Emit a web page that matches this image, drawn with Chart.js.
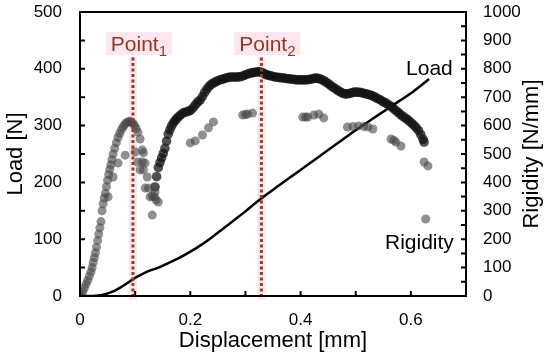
<!DOCTYPE html>
<html>
<head>
<meta charset="utf-8">
<script src="https://cdn.jsdelivr.net/npm/chart.js@4.4.1/dist/chart.umd.min.js"></script>
<style>html,body{margin:0;padding:0;background:#fff}</style>
</head>
<body>
<canvas id="chart_canvas" width="550" height="360"></canvas>
<script>
/*---------------------------------------------------------------
----- LOAD / RIGIDITY vs DISPLACEMENT
---------------------------------------------------------------*/

// Load curve (left axis, N)
var loadDisp = [0, 0.02, 0.04, 0.06, 0.08, 0.10, 0.11, 0.12, 0.13, 0.14, 0.16, 0.18, 0.20, 0.22, 0.24, 0.26, 0.28, 0.30,
    0.32, 0.34, 0.36, 0.38, 0.40, 0.42, 0.44, 0.46, 0.48, 0.50, 0.52, 0.54, 0.56, 0.58, 0.60, 0.62, 0.633];
var loadValues = [0, 0, 2, 8, 19, 32, 37, 42, 46, 49, 58, 67, 78, 90, 104, 119, 134, 149,
    165, 180, 194, 208, 222, 236, 250, 264, 278, 292, 305, 318, 331, 344, 357, 372, 382];

// Rigidity (right axis, N/mm) - first rise up to Point 1
var rigRiseDisp = [0, 0.002, 0.005, 0.008, 0.011, 0.014, 0.017, 0.020, 0.022, 0.024, 0.026, 0.028, 0.030, 0.032,
    0.034, 0.036, 0.038, 0.040, 0.042, 0.044, 0.046, 0.048, 0.050, 0.052, 0.054, 0.056, 0.058, 0.060, 0.063,
    0.066, 0.069, 0.072, 0.075, 0.078, 0.081, 0.084, 0.087, 0.090, 0.093, 0.096, 0.099, 0.102, 0.105];
var rigRiseValues = [0, 5, 15, 28, 42, 55, 70, 85, 100, 118, 135, 152, 172, 195,
    218, 240, 262, 300, 325, 345, 362, 385, 408, 428, 446, 462, 480, 500, 520,
    540, 558, 572, 585, 595, 603, 610, 613, 615, 613, 608, 600, 590, 577];

// Rigidity - scattered points
var rigScatterDisp = [0.109, 0.113, 0.115, 0.113, 0.118, 0.109, 0.115, 0.122, 0.118, 0.124, 0.127, 0.131, 0.135,
    0.138, 0.142, 0.131, 0.136, 0.100, 0.105, 0.082, 0.069, 0.060, 0.051,
    0.200, 0.209, 0.222, 0.233, 0.242, 0.295, 0.300, 0.304, 0.313, 0.404, 0.409, 0.413, 0.424, 0.433, 0.442,
    0.485, 0.495, 0.505, 0.515, 0.522, 0.531, 0.564, 0.569, 0.573, 0.582, 0.624, 0.631, 0.627];
var rigScatterValues = [553, 514, 504, 472, 468, 444, 444, 419, 380, 380, 349, 352, 349,
    338, 331, 285, 366, 507, 472, 496, 468, 419, 349,
    539, 546, 567, 592, 613, 637, 639, 641, 644, 630, 630, 630, 637, 641, 627,
    595, 597, 599, 597, 595, 588, 553, 548, 542, 528, 472, 458, 271];

// Rigidity - dense branch from the dip to the end
var rigCurveDisp = [0.136, 0.139, 0.142, 0.145, 0.148, 0.151, 0.154, 0.157, 0.160, 0.163, 0.166, 0.169, 0.172,
    0.175, 0.178, 0.182, 0.186, 0.190, 0.194, 0.198, 0.202, 0.206, 0.210, 0.214, 0.218, 0.222, 0.226, 0.230,
    0.234, 0.238, 0.242, 0.246, 0.250, 0.254, 0.258, 0.262, 0.266, 0.270, 0.274, 0.278, 0.282, 0.286, 0.290,
    0.294, 0.298, 0.302, 0.306, 0.310, 0.314, 0.318, 0.322, 0.326, 0.330, 0.334, 0.338, 0.342, 0.346, 0.350,
    0.354, 0.358, 0.362, 0.366, 0.370, 0.374, 0.378, 0.382, 0.386, 0.390, 0.394, 0.398, 0.402, 0.406, 0.410,
    0.414, 0.418, 0.422, 0.426, 0.430, 0.434, 0.438, 0.442, 0.446, 0.450, 0.454, 0.458, 0.462, 0.466, 0.470,
    0.474, 0.478, 0.482, 0.486, 0.490, 0.494, 0.498, 0.502, 0.506, 0.510, 0.514, 0.518, 0.522, 0.526, 0.530,
    0.534, 0.538, 0.542, 0.546, 0.550, 0.554, 0.558, 0.562, 0.566, 0.570, 0.574, 0.578, 0.582, 0.586, 0.590,
    0.594, 0.598, 0.602, 0.606, 0.610, 0.614, 0.618, 0.622, 0.624];
var rigCurveValues = [384, 420, 452, 470, 486, 502, 520, 545, 570, 585, 598, 609, 617,
    624, 630, 637, 643, 647, 649, 651, 656, 665, 675, 684, 690, 702, 716, 728,
    738, 745, 750, 754, 758, 761, 763, 766, 768, 770, 771, 771, 771, 771, 772,
    774, 777, 780, 783, 785, 787, 788, 789, 789, 787, 783, 779, 777, 775, 773,
    771, 770, 769, 768, 767, 766, 765, 764, 763, 762, 761, 761, 761, 761, 761,
    762, 763, 765, 767, 767, 765, 762, 758, 753, 748, 742, 736, 731, 726, 721,
    716, 713, 711, 712, 714, 716, 718, 718, 717, 716, 714, 712, 710, 708, 705,
    701, 697, 693, 689, 684, 680, 675, 670, 664, 657, 651, 645, 638, 632, 626,
    621, 614, 607, 600, 592, 582, 568, 552, 542];

// Axis ticks
var xTickLabels = [0, 0.2, 0.4, 0.6];
var loadTickLabels = [0, 100, 200, 300, 400, 500];
var rigidityTickLabels = [0, 100, 200, 300, 400, 500, 600, 700, 800, 900, 1000];

// Marked points
var markerDisp = [0.096, 0.329];
var markerNames = ['1', '2'];

var FONT = "'Liberation Sans', Arial, sans-serif";

function toPoints(xs, ys) {
    return xs.map(function (v, i) { return { x: v, y: ys[i] }; });
}

var rigidityLoose = toPoints(rigRiseDisp, rigRiseValues)
    .concat(toPoints(rigScatterDisp, rigScatterValues));
var rigidityDense = toPoints(rigCurveDisp, rigCurveValues);

// Draws the frame, inward ticks, the two marked points and the curve labels
var decorations = {
    id: 'decorations',
    beforeDatasetsDraw: function (chart) {
        var ctx = chart.ctx, x = chart.scales.x, y = chart.scales.y;
        ctx.save();
        ctx.fillStyle = 'rgba(255, 196, 214, 0.45)';
        markerDisp.forEach(function (d) {
            var px = x.getPixelForValue(d);
            var top = y.getPixelForValue(420);
            ctx.fillRect(px - 4, top, 8, y.getPixelForValue(0) + 4 - top);
        });
        ctx.restore();
    },
    afterDatasetsDraw: function (chart) {
        var ctx = chart.ctx, x = chart.scales.x, y = chart.scales.y, y2 = chart.scales.y2;
        var area = chart.chartArea;
        ctx.save();

        // dotted vertical lines + labels
        markerDisp.forEach(function (d, i) {
            var px = x.getPixelForValue(d);
            ctx.strokeStyle = '#8a451e';
            ctx.lineWidth = 3;
            ctx.setLineDash([3, 2.5]);
            ctx.beginPath();
            ctx.moveTo(px, y.getPixelForValue(420));
            ctx.lineTo(px, y.getPixelForValue(0));
            ctx.stroke();
            ctx.setLineDash([]);

            ctx.font = '21px ' + FONT;
            var w1 = ctx.measureText('Point').width;
            ctx.font = '15px ' + FONT;
            var w2 = ctx.measureText(markerNames[i]).width;
            var left = px + 6 - (w1 + w2) / 2;
            var base = y.getPixelForValue(431);
            ctx.fillStyle = 'rgba(253, 230, 238, 1)';
            ctx.fillRect(left - 5, y.getPixelForValue(465), w1 + w2 + 10, y.getPixelForValue(424) - y.getPixelForValue(465));
            ctx.fillStyle = '#8f3a1f';
            ctx.textBaseline = 'alphabetic';
            ctx.textAlign = 'left';
            ctx.font = '21px ' + FONT;
            ctx.fillText('Point', left, base);
            ctx.font = '15px ' + FONT;
            ctx.fillText(markerNames[i], left + w1, base + 5);
        });

        // frame
        ctx.strokeStyle = '#000';
        ctx.lineWidth = 2;
        ctx.strokeRect(area.left, area.top, area.right - area.left, area.bottom - area.top);

        // inward ticks
        ctx.lineWidth = 2;
        ctx.beginPath();
        for (var v = 0; v <= 500; v += 50) {
            var py = y.getPixelForValue(v);
            ctx.moveTo(area.left, py); ctx.lineTo(area.left + 5, py);
        }
        for (var r = 0; r <= 1000; r += 50) {
            var py2 = y2.getPixelForValue(r);
            ctx.moveTo(area.right, py2); ctx.lineTo(area.right - 5, py2);
        }
        for (var k = 0; k <= 7; k++) {
            var px2 = x.getPixelForValue(k / 10);
            ctx.moveTo(px2, area.bottom); ctx.lineTo(px2, area.bottom - 5);
        }
        ctx.stroke();

        // curve names
        ctx.fillStyle = '#000';
        ctx.font = '21px ' + FONT;
        ctx.textAlign = 'right';
        ctx.fillText('Load', x.getPixelForValue(0.676), y.getPixelForValue(389));
        ctx.fillText('Rigidity', x.getPixelForValue(0.678), y.getPixelForValue(83));

        // right axis title, reading upwards
        ctx.translate(532, (area.top + area.bottom) / 2);
        ctx.rotate(-Math.PI / 2);
        ctx.font = '22px ' + FONT;
        ctx.textAlign = 'center';
        ctx.textBaseline = 'middle';
        ctx.fillText('Rigidity [N/mm]', 0, 0);
        ctx.restore();
    }
};

function fixedTicks(values) {
    return function (scale) {
        scale.ticks = values.map(function (v) { return { value: v }; });
    };
}

function plainLabel(value) {
    return String(value);
}

var context = document.getElementById('chart_canvas').getContext('2d');

var chart = new Chart(context, {
    type: 'scatter',
    data: {
        datasets: [{
            label: 'Rigidity',
            data: rigidityLoose,
            yAxisID: 'y2',
            pointRadius: 4.5,
            pointBorderWidth: 0,
            backgroundColor: 'rgba(70, 70, 70, 0.6)',
            borderColor: 'rgba(70, 70, 70, 0)'
        }, {
            label: 'Rigidity (dense)',
            data: rigidityDense,
            yAxisID: 'y2',
            pointRadius: 4.8,
            pointBorderWidth: 0,
            backgroundColor: 'rgba(20, 20, 20, 0.75)',
            borderColor: 'rgba(20, 20, 20, 0)'
        }, {
            label: 'Load',
            data: toPoints(loadDisp, loadValues),
            yAxisID: 'y',
            showLine: true,
            pointRadius: 0,
            borderColor: '#000',
            borderWidth: 2.5,
            cubicInterpolationMode: 'monotone'
        }]
    },
    plugins: [decorations],
    options: {
        responsive: false,
        animation: false,
        devicePixelRatio: 1,
        layout: { padding: { top: 12, left: 0, right: 0, bottom: 0 } },
        plugins: { legend: { display: false }, tooltip: { enabled: false } },
        scales: {
            x: {
                type: 'linear', min: 0, max: 0.7,
                afterBuildTicks: fixedTicks(xTickLabels),
                afterFit: function (s) { s.height = 64; s.paddingLeft = 0; s.paddingRight = 0; },
                grid: { display: false, drawTicks: false },
                border: { display: false },
                ticks: { padding: 14, color: '#000', font: { family: FONT, size: 17 }, callback: plainLabel },
                title: { display: true, text: 'Displacement [mm]', color: '#000',
                    font: { family: FONT, size: 22 }, padding: { top: 0, bottom: 6 } }
            },
            y: {
                position: 'left', min: 0, max: 500,
                afterBuildTicks: fixedTicks(loadTickLabels),
                afterFit: function (s) { s.width = 80; s.paddingTop = 0; s.paddingBottom = 0; },
                grid: { display: false, drawTicks: false },
                border: { display: false },
                ticks: { padding: 18, color: '#000', font: { family: FONT, size: 17 }, callback: plainLabel },
                title: { display: true, text: 'Load [N]', color: '#000',
                    font: { family: FONT, size: 22 }, padding: { top: 3, bottom: 0 } }
            },
            y2: {
                position: 'right', min: 0, max: 1000,
                afterBuildTicks: fixedTicks(rigidityTickLabels),
                afterFit: function (s) { s.width = 84; s.paddingTop = 0; s.paddingBottom = 0; },
                grid: { display: false, drawTicks: false },
                border: { display: false },
                ticks: { padding: 17, color: '#000', font: { family: FONT, size: 17 }, callback: plainLabel },
                title: { display: false }
            }
        }
    }
});
</script>
</body>
</html>
